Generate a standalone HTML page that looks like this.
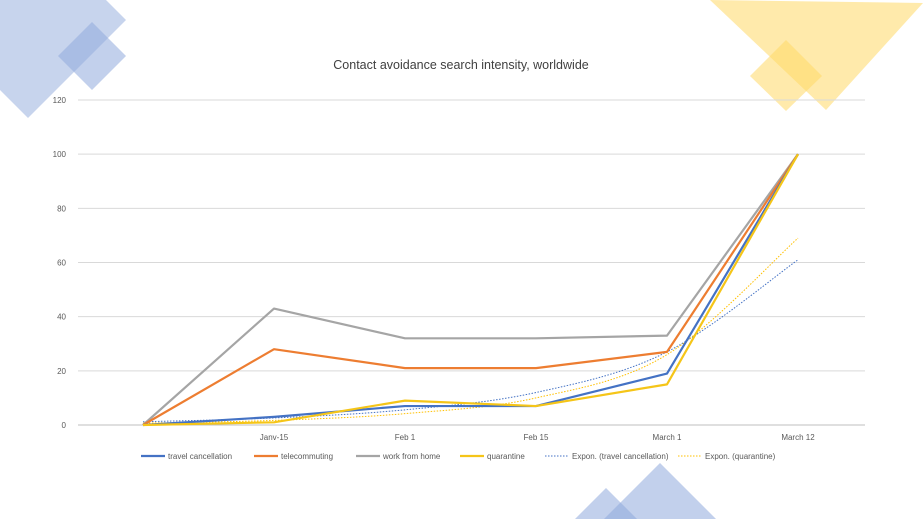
<!DOCTYPE html>
<html><head><meta charset="utf-8"><style>
body{margin:0;width:923px;height:519px;overflow:hidden;background:#fff;font-family:"Liberation Sans",sans-serif}
svg{position:absolute;left:0;top:0}
</style></head><body>
<svg width="923" height="519">
<g>
<polygon points="28,-78 126,20 28,118 -70,20" fill="rgba(143,170,220,0.5)"/>
<polygon points="92,22 126,56 92,90 58,56" fill="rgba(143,170,220,0.55)"/>
<polygon points="710,0 923,3 826,110" fill="rgba(255,217,102,0.55)"/>
<polygon points="786,40 822,76 786,111 750,76" fill="rgba(255,217,102,0.55)"/>
<polygon points="660,463 716,519 604,519" fill="rgba(143,170,220,0.55)"/>
<polygon points="606,488 637,519 575,519" fill="rgba(143,170,220,0.55)"/>
</g>
<text x="461" y="69" text-anchor="middle" font-size="12.5" fill="#404040">Contact avoidance search intensity, worldwide</text>
<g id="grid"></g><g id="series"></g><g id="legend"></g>
</svg>
<script>
const categories=["","Janv-15","Feb 1","Feb 15","March 1","March 12"];
const yTicks=[0,20,40,60,80,100,120];
const travel=[0,3,7,7,19,100];
const telecommuting=[0,28,21,21,27,100];
const workFromHome=[0,43,32,32,33,100];
const quarantine=[0,1,9,7,15,100];
const expTravel=[1.2,2.6,5.6,12,27,61];
const expQuarantine=[0.7,1.7,4.2,10,26,69];
const NS="http://www.w3.org/2000/svg";
const x=i=>143+i*131, y=v=>425-v*325/120;
function mk(t,a,p){const e=document.createElementNS(NS,t);for(const k in a)e.setAttribute(k,a[k]);p.appendChild(e);return e;}
function smooth(pts){let d='M'+pts[0][0]+','+pts[0][1];
 for(let i=0;i<pts.length-1;i++){const p0=pts[i-1]||pts[i],p1=pts[i],p2=pts[i+1],p3=pts[i+2]||p2;
  const c1=[p1[0]+(p2[0]-p0[0])/6,p1[1]+(p2[1]-p0[1])/6],c2=[p2[0]-(p3[0]-p1[0])/6,p2[1]-(p3[1]-p1[1])/6];
  d+=' C'+c1+' '+c2+' '+p2;}return d;}
const g=document.getElementById('grid');
yTicks.forEach(t=>{
 const l=mk('line',{x1:78,x2:865,y1:y(t),y2:y(t),stroke:t===0?'#bfbfbf':'#d9d9d9','stroke-width':1},g);
 
 
 const tx=mk('text',{x:66,y:y(t)+3,'text-anchor':'end','font-size':8,fill:'#595959'},g);tx.textContent=t;
 
 
});
categories.forEach((c,i)=>{if(!c)return;
 const tx=mk('text',{x:x(i),y:440,'text-anchor':'middle','font-size':8,fill:'#595959'},g);tx.textContent=c;
 
 
});
const s=document.getElementById('series');
const defs=[
 [expTravel,'#4472c4',1,'1.5,1.5','trend-travel'],
 [expQuarantine,'#ffc000',1,'1.5,1.5','trend-quarantine'],
 [workFromHome,'#a5a5a5',2.2,null,'line-work-from-home'],
 [telecommuting,'#ed7d31',2.2,null,'line-telecommuting'],
 [travel,'#4472c4',2.2,null,'line-travel-cancellation'],
 [quarantine,'#f5c518',2.2,null,'line-quarantine']];
defs.forEach(([d,c,w,da,n])=>{
 let p;
 if(da){p=mk('path',{d:smooth(d.map((v,i)=>[x(i),y(v)])),fill:'none',stroke:c,'stroke-width':w,'stroke-dasharray':da},s);}
 else p=mk('polyline',{points:d.map((v,i)=>x(i)+','+y(v)).join(' '),fill:'none',stroke:c,'stroke-width':w,'stroke-linejoin':'round'},s);
 
 
});
const lg=document.getElementById('legend');
const items=[['travel cancellation','#4472c4',null,141],['telecommuting','#ed7d31',null,254],['work from home','#a5a5a5',null,356],['quarantine','#f5c518',null,460],['Expon. (travel cancellation)','#4472c4','1.5,1.5',545],['Expon. (quarantine)','#ffc000','1.5,1.5',678]];
items.forEach(([t,c,da,lx])=>{
 const l=mk('line',{x1:lx,x2:lx+24,y1:456,y2:456,stroke:c,'stroke-width':da?1:2.2},lg);
 if(da)l.setAttribute('stroke-dasharray',da);
 
 
 const tx=mk('text',{x:lx+27,y:459,'font-size':8,fill:'#595959'},lg);tx.textContent=t;
 
 
});
</script>
</body></html>
